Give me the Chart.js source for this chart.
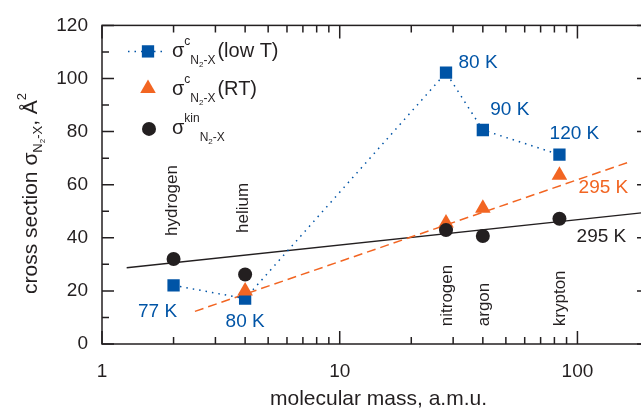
<!DOCTYPE html>
<html>
<head>
<meta charset="utf-8">
<script src="https://cdn.jsdelivr.net/npm/chart.js@4.4.1/dist/chart.umd.min.js"></script>
<style>
  html, body { margin: 0; padding: 0; background: #fff; overflow: hidden; }
  #wrap { width: 641px; height: 413px; overflow: hidden; }
</style>
</head>
<body>
<div id="wrap"><canvas id="chart" width="660" height="413"></canvas></div>
<script>
// gases and their mass (a.m.u.)
const gasNames = ['hydrogen', 'helium', 'nitrogen', 'argon', 'krypton'];
const gasMass = [2, 4, 28, 40, 84];

// sigma^c N2-X at low T (squares)
const lowTMass = [2, 4, 28, 40, 84];
const lowTSigma = [22.1, 17.1, 102.2, 80.6, 71.3];
const lowTTemps = ['77 K', '80 K', '80 K', '90 K', '120 K'];

// sigma^c N2-X at RT (triangles)
const rtMass = [4, 28, 40, 84];
const rtSigma = [20.0, 45.6, 51.1, 63.6];

// sigma kin N2-X (circles)
const kinMass = [2, 4, 28, 40, 84];
const kinSigma = [32.0, 26.2, 42.9, 40.7, 47.2];

// fitted lines, end points
const rtFitMass = [2.46, 168];
const rtFitSigma = [12.3, 68.8];
const kinFitMass = [1.27, 190];
const kinFitSigma = [28.7, 49.5];

// axes
const xTickLabels = [1, 10, 100];
const xMinorTicks = [2, 3, 4, 5, 6, 7, 8, 9, 20, 30, 40, 50, 60, 70, 80, 90, 200];
const yTickLabels = [0, 20, 40, 60, 80, 100, 120];
const yMinorTicks = [10, 30, 50, 70, 90, 110];

const BLUE = '#0054a6';
const ORANGE = '#f26522';
const INK = '#231f20';
const FONT = '"Liberation Sans", Arial, sans-serif';

const pts = (xs, ys) => xs.map((x, i) => ({ x: x, y: ys[i] }));

// text with sub/superscripts: [text, size, dy]
function rich(ctx, parts, x, y) {
    let cx = x;
    parts.forEach(([t, size, dy]) => {
        ctx.font = size + 'px ' + FONT;
        ctx.fillText(t, cx, y + dy);
        cx += ctx.measureText(t).width;
    });
}

// frame with inward ticks
const framePlugin = {
    id: 'frame',
    afterDatasetsDraw(chart) {
        const { ctx, chartArea: a, scales: { x, y } } = chart;
        ctx.save();
        ctx.strokeStyle = INK;
        ctx.lineWidth = 1.5;
        ctx.strokeRect(a.left, a.top, a.right - a.left, a.bottom - a.top);
        ctx.beginPath();
        const xt = (v, len) => {
            const px = x.getPixelForValue(v);
            ctx.moveTo(px, a.bottom); ctx.lineTo(px, a.bottom - len);
            ctx.moveTo(px, a.top); ctx.lineTo(px, a.top + len);
        };
        const yt = (v, len) => {
            const py = y.getPixelForValue(v);
            ctx.moveTo(a.left, py); ctx.lineTo(a.left + len, py);
            ctx.moveTo(a.right, py); ctx.lineTo(a.right - len, py);
        };
        xTickLabels.forEach(v => xt(v, 13));
        xMinorTicks.forEach(v => xt(v, 7));
        yTickLabels.forEach(v => yt(v, 12));
        yMinorTicks.forEach(v => yt(v, 7));
        ctx.stroke();
        ctx.restore();
    }
};

// labels, legend and axis titles
const textPlugin = {
    id: 'texts',
    afterDraw(chart) {
        const { ctx, chartArea: a, scales: { x, y } } = chart;
        ctx.save();

        // temperatures next to the squares
        const lowTShift = [[-16, 26], [0, 23], [32, -10], [27, -20], [15, -21]];
        ctx.font = '19px ' + FONT;
        ctx.textAlign = 'center';
        ctx.textBaseline = 'middle';
        ctx.fillStyle = BLUE;
        lowTTemps.forEach((t, i) => {
            ctx.fillText(t, x.getPixelForValue(lowTMass[i]) + lowTShift[i][0],
                y.getPixelForValue(lowTSigma[i]) + lowTShift[i][1]);
        });
        const k = rtMass.length - 1;
        ctx.fillStyle = ORANGE;
        ctx.fillText('295 K', x.getPixelForValue(rtMass[k]) + 44, y.getPixelForValue(rtSigma[k]) + 13);
        const j = kinMass.length - 1;
        ctx.fillStyle = INK;
        ctx.fillText('295 K', x.getPixelForValue(kinMass[j]) + 42, y.getPixelForValue(kinSigma[j]) + 18);

        // gas names, vertical
        const gasBase = [40.7, 41.8, 6.7, 6.7, 6.7];
        const gasDx = [3, 3.3, 5.5, 6.3, 5.4];
        ctx.font = '17px ' + FONT;
        ctx.textAlign = 'left';
        ctx.textBaseline = 'alphabetic';
        gasNames.forEach((g, i) => {
            ctx.save();
            ctx.translate(x.getPixelForValue(gasMass[i]) + gasDx[i], y.getPixelForValue(gasBase[i]));
            ctx.rotate(-Math.PI / 2);
            ctx.fillText(g, 0, 0);
            ctx.restore();
        });

        // legend
        const lx = a.left, ly = a.top;
        ctx.strokeStyle = BLUE;
        ctx.lineWidth = 1.5;
        ctx.setLineDash([1.5, 5]);
        ctx.beginPath();
        ctx.moveTo(lx + 26, ly + 26); ctx.lineTo(lx + 62, ly + 26);
        ctx.stroke();
        ctx.setLineDash([]);
        ctx.fillStyle = BLUE;
        Chart.helpers.drawPoint(ctx, { pointStyle: 'rect', radius: 8.7, borderWidth: 0 }, lx + 46, ly + 26);
        ctx.fillStyle = ORANGE;
        Chart.helpers.drawPoint(ctx, { pointStyle: 'triangle', radius: 9, borderWidth: 0 }, lx + 46, ly + 63);
        ctx.fillStyle = INK;
        Chart.helpers.drawPoint(ctx, { pointStyle: 'circle', radius: 7, borderWidth: 0 }, lx + 47, ly + 103.5);

        ctx.fillStyle = INK;
        const sub = [['N', 12, 7], ['2', 8, 10], ['-X', 12, 7]];
        rich(ctx, [['σ', 20, 0], ['c', 12, -12]].concat(sub, [[' ', 7, 0], ['(low T)', 20, 0]]), lx + 70, ly + 32);
        rich(ctx, [['σ', 20, 0], ['c', 12, -12]].concat(sub, [[' ', 7, 0], ['(RT)', 20, 0]]), lx + 70, ly + 69.5);
        rich(ctx, [['σ', 20, 0], ['kin', 12, -12]].concat(sub), lx + 70, ly + 109);

        // axis titles
        ctx.font = '21px ' + FONT;
        ctx.textAlign = 'center';
        ctx.fillText('molecular mass, a.m.u.', (a.left + 641) / 2 + 7, 405);
        ctx.textAlign = 'left';
        ctx.save();
        ctx.translate(37, 294);
        ctx.rotate(-Math.PI / 2);
        rich(ctx, [['cross section σ', 21, 0], ['N', 13, 5], ['2', 8, 8], ['-X', 13, 5],
            [', Å', 21, 0], ['2', 13, -11]], 0, 0);
        ctx.restore();

        ctx.restore();
    }
};

new Chart(document.getElementById('chart'), {
    type: 'scatter',
    data: {
        datasets: [
            {
                label: 'σkin N2-X',
                data: pts(kinMass, kinSigma),
                pointStyle: 'circle',
                pointRadius: 7,
                backgroundColor: INK,
                borderWidth: 0
            },
            {
                label: 'σc N2-X (RT)',
                data: pts(rtMass, rtSigma),
                pointStyle: 'triangle',
                pointRadius: 9,
                backgroundColor: ORANGE,
                borderWidth: 0
            },
            {
                label: 'σc N2-X (low T)',
                data: pts(lowTMass, lowTSigma),
                pointStyle: 'rect',
                pointRadius: 8.7,
                backgroundColor: BLUE,
                borderColor: BLUE,
                borderWidth: 1.5,
                pointBorderWidth: 0,
                showLine: true,
                borderDash: [1.5, 5]
            },
            {
                label: 'RT fit',
                data: pts(rtFitMass, rtFitSigma),
                showLine: true,
                pointRadius: 0,
                borderColor: ORANGE,
                borderWidth: 1.5,
                borderDash: [9, 5]
            },
            {
                label: 'kin fit',
                data: pts(kinFitMass, kinFitSigma),
                showLine: true,
                pointRadius: 0,
                borderColor: INK,
                borderWidth: 1.4
            }
        ]
    },
    options: {
        responsive: false,
        animation: false,
        layout: { padding: { top: 23, right: 11, left: 0, bottom: 0 } },
        plugins: { legend: { display: false }, tooltip: { enabled: false } },
        scales: {
            x: {
                type: 'logarithmic',
                min: 1,
                max: 200,
                grid: { display: false, drawTicks: false },
                border: { display: false },
                afterBuildTicks: s => { s.ticks = xTickLabels.map(v => ({ value: v })); },
                afterFit: s => { s.height = 69; },
                ticks: {
                    callback: v => String(v),
                    autoSkip: false,
                    maxRotation: 0,
                    padding: 16,
                    color: INK,
                    font: { family: FONT, size: 19 }
                }
            },
            y: {
                min: 0,
                max: 120,
                grid: { display: false, drawTicks: false },
                border: { display: false },
                afterBuildTicks: s => { s.ticks = yTickLabels.map(v => ({ value: v })); },
                afterFit: s => { s.width = 102; },
                ticks: {
                    padding: 14,
                    color: INK,
                    font: { family: FONT, size: 19 }
                }
            }
        }
    },
    plugins: [framePlugin, textPlugin]
});
</script>
</body>
</html>
